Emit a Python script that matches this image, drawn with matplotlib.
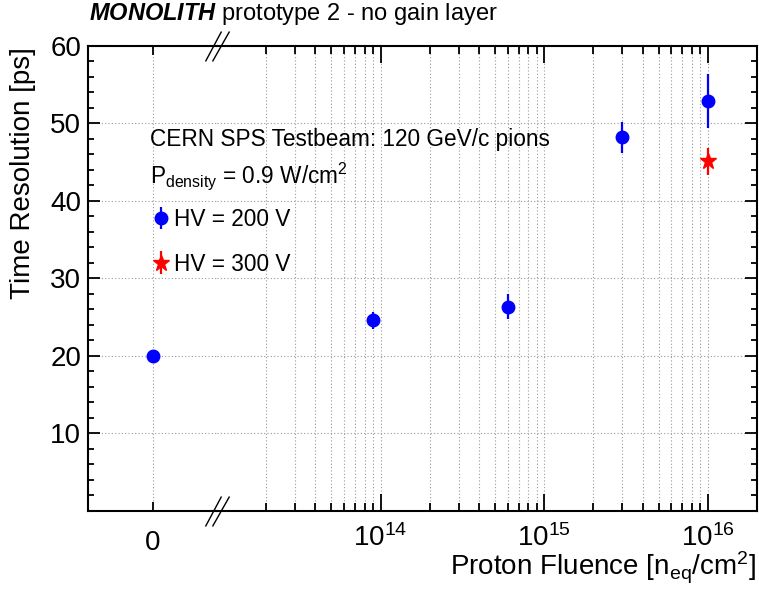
import numpy as np
import matplotlib
matplotlib.use("Agg")
import matplotlib.pyplot as plt
from matplotlib.path import Path
from matplotlib.ticker import MultipleLocator, LogLocator, NullFormatter, FixedLocator

plt.rcParams['font.family'] = ['Liberation Sans', 'DejaVu Sans']
plt.rcParams['mathtext.fontset'] = 'custom'
plt.rcParams['mathtext.rm'] = 'Liberation Sans'
plt.rcParams['mathtext.it'] = 'Liberation Sans:italic'
plt.rcParams['mathtext.bf'] = 'Liberation Sans:bold'
plt.rcParams['mathtext.bfit'] = 'Liberation Sans:italic:bold'

# data
fluence_200 = np.array([0, 9e13, 6e14, 3e15, 1e16])
time_200 = np.array([20.0, 24.6, 26.3, 48.2, 52.9])
err_200 = np.array([0.5, 1.1, 1.6, 2.0, 3.5])

fluence_300 = np.array([1e16])
time_300 = np.array([45.1])
err_300 = np.array([1.75])

label_200 = 'HV = 200 V'
label_300 = 'HV = 300 V'

# figure geometry (pixels)
W, H = 759, 592
def fx(px):
    return px / W
def fy(py):
    return 1 - py / H

x_left, x_break, x_right = 88.3, 217.0, 757.0
y_top, y_bot = 45.7, 510.7

fig = plt.figure(figsize=(W / 100, H / 100), dpi=100)
ax0 = fig.add_axes([fx(x_left), fy(y_bot), (x_break - x_left) / W, (y_bot - y_top) / H])
ax1 = fig.add_axes([fx(x_break), fy(y_bot), (x_right - x_break) / W, (y_bot - y_top) / H])

grid_kw = dict(color='#9a9a9a', linestyle=(0, (1, 2)), linewidth=0.8)

# left part: zero fluence
zero = fluence_200 == 0
ax0.errorbar(fluence_200[zero], time_200[zero], yerr=err_200[zero], fmt='o', color='blue',
             ms=9, elinewidth=1.6, capsize=0, zorder=5)
ax0.set_xlim(-1, 1)
ax0.xaxis.set_major_locator(FixedLocator([0]))

# right part: log fluence
h200 = ax1.errorbar(fluence_200[~zero], time_200[~zero], yerr=err_200[~zero], fmt='o', color='blue',
                    ms=9, elinewidth=1.6, capsize=0, zorder=5)
h300 = ax1.errorbar(fluence_300, time_300, yerr=err_300, fmt='*', color='red',
                    ms=12, elinewidth=1.6, capsize=0, zorder=5)
ax1.set_xscale('log')
ax1.set_xlim(1e13, 2e16)
ax1.xaxis.set_major_locator(FixedLocator([1e14, 1e15, 1e16]))
ax1.xaxis.set_minor_locator(LogLocator(base=10, subs=np.arange(2, 10)))
ax1.xaxis.set_minor_formatter(NullFormatter())

for ax in (ax0, ax1):
    ax.set_ylim(0, 60)
    ax.yaxis.set_major_locator(MultipleLocator(10))
    ax.yaxis.set_minor_locator(MultipleLocator(2))
    for s in ax.spines.values():
        s.set_linewidth(1.5)
    ax.tick_params(which='both', direction='in', width=1.3, labelsize=20)
    ax.tick_params(axis='y', which='major', length=8.5)
    ax.tick_params(axis='y', which='minor', length=4.3)
    ax.grid(True, axis='y', which='major', **grid_kw)

ax0.set_yticks([10, 20, 30, 40, 50, 60])
ax0.spines['right'].set_visible(False)
ax0.tick_params(axis='x', which='major', length=6.5, top=True, pad=14)
ax0.tick_params(axis='y', which='both', left=True, right=False, pad=5)
ax0.grid(True, axis='x', which='major', **grid_kw)

ax1.spines['left'].set_visible(False)
ax1.tick_params(axis='x', which='major', length=12, top=True, pad=9.5)
ax1.tick_params(axis='x', which='minor', length=6, top=True)
ax1.tick_params(axis='y', which='both', left=False, right=True, labelleft=False)
ax1.grid(True, axis='x', which='both', **grid_kw)

# axis break marks
brk = Path([(-12, -15), (4, 15), (-5, -15), (12, 15)],
           [Path.MOVETO, Path.LINETO, Path.MOVETO, Path.LINETO])
ax1.plot([0, 0], [0, 1], transform=ax1.transAxes, linestyle='none', marker=brk, ms=21.6,
         mfc='none', mec='black', mew=1.0, clip_on=False, zorder=10)

# labels
ax0.set_ylabel('Time Resolution [ps]', fontsize=20, loc='top')
ax0.yaxis.set_label_coords((36 - x_left) / (x_break - x_left), (y_bot - 47) / (y_bot - y_top))
fig.text(fx(756), fy(576), r'Proton Fluence [n$_{\mathregular{eq}}$/cm$^{\mathregular{2}}$]',
         fontsize=20, ha='right', va='baseline')

fig.text(fx(89.3), fy(20), r'$\mathbfit{MONOLITH}$ prototype 2 - no gain layer',
         fontsize=17, ha='left', va='baseline')

fig.text(fx(150), fy(146), 'CERN SPS Testbeam: 120 GeV/c pions', fontsize=16.3,
         ha='left', va='baseline')
fig.text(fx(150), fy(182.7), r'P$_{\mathregular{density}}$ = 0.9 W/cm$^{\mathregular{2}}$',
         fontsize=16.3, ha='left', va='baseline')

fig.legend([h200, h300], [label_200, label_300], loc='upper left',
           bbox_to_anchor=(fx(152), fy(208)), frameon=False, fontsize=16.3,
           handlelength=0.8, handletextpad=0.15, labelspacing=0.95, borderpad=0, borderaxespad=0)

fig.savefig('out.png', dpi=100)
